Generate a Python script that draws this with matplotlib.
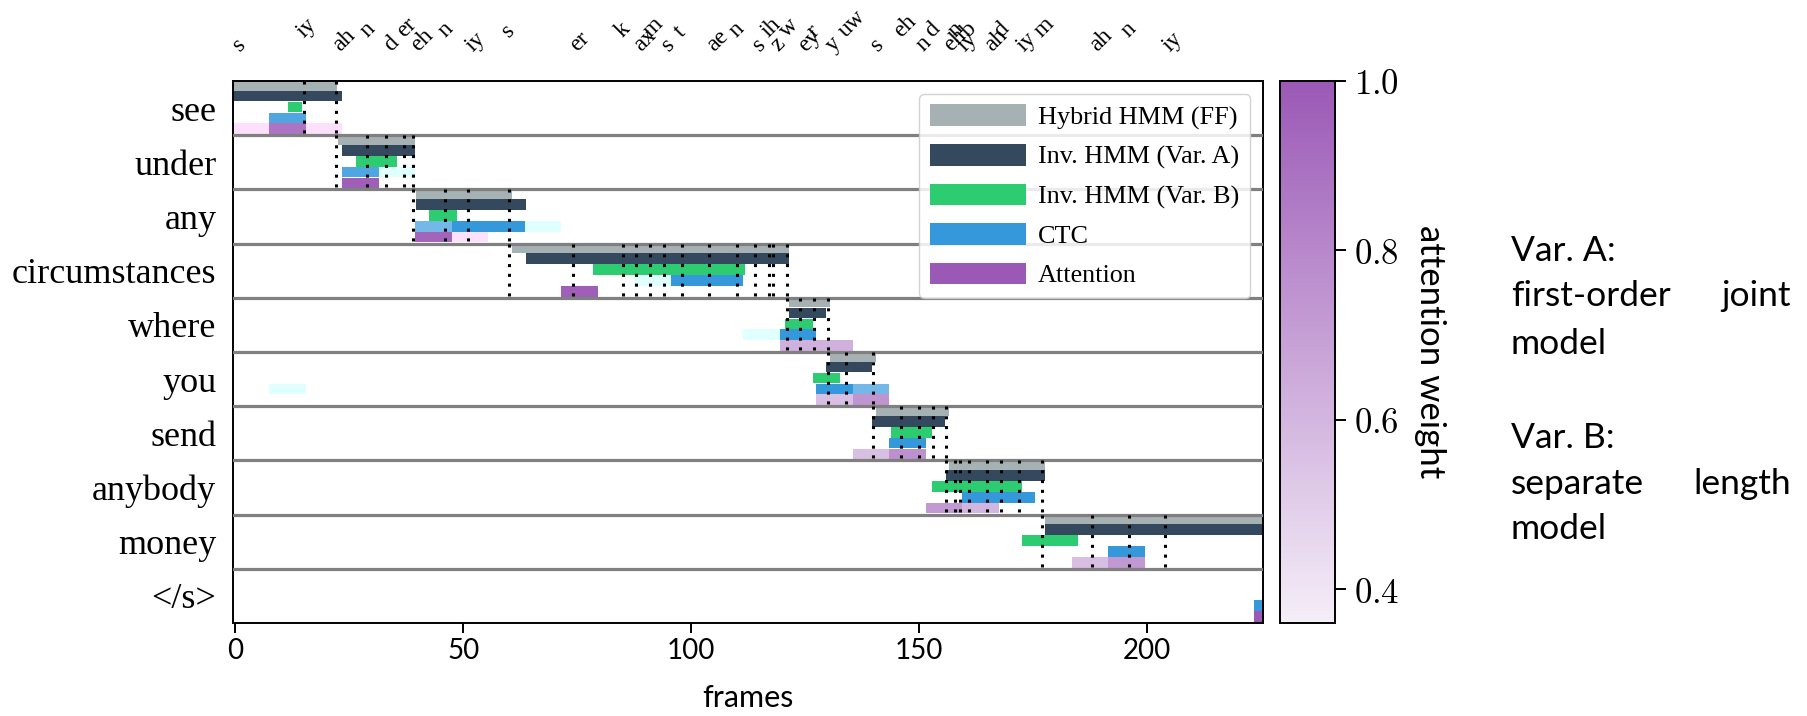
import numpy as np
import matplotlib
matplotlib.use('Agg')
import matplotlib.pyplot as plt
import matplotlib.transforms as mtransforms
from matplotlib.colors import LinearSegmentedColormap, Normalize
from matplotlib.patches import Patch
from matplotlib.cm import ScalarMappable

plt.rcParams['mathtext.fontset'] = 'cm'
SERIF = 'Liberation Serif'
SANS = 'Lato'

# ---------------- data ----------------
words = ['see', 'under', 'any', 'circumstances', 'where', 'you', 'send',
         'anybody', 'money', '</s>']
phones = [['s', 'iy'],
          ['ah', 'n', 'd', 'er'],
          ['eh', 'n', 'iy'],
          ['s', 'er', 'k', 'ax', 'm', 's', 't', 'ae', 'n', 's', 'ih', 'z'],
          ['w', 'ey', 'r'],
          ['y', 'uw'],
          ['s', 'eh', 'n', 'd'],
          ['eh', 'n', 'iy', 'b', 'ah', 'd', 'iy'],
          ['m', 'ah', 'n', 'iy'],
          []]
phone_bounds = [[0, 15, 22],
                [22, 29, 33, 37, 39],
                [39, 46, 51, 60],
                [60, 74, 85, 88, 91, 94, 98, 104, 110, 114, 117, 118, 121],
                [121, 124, 127, 130],
                [130, 134, 140],
                [140, 146, 150, 153, 156],
                [156, 158, 159, 161, 165, 168, 172, 177],
                [177, 188, 196, 204, 226],
                []]
n_frames = 226

# (word index, start frame, end frame)
hybrid_ff = [(0, -0.5, 22.3), (1, 22.5, 39.5), (2, 39.6, 60.7), (3, 60.8, 121.5),
             (4, 121.5, 130.5), (5, 130.6, 140.6), (6, 140.6, 156.7),
             (7, 156.7, 177.7), (8, 177.7, 225.5)]
var_a = [(0, -0.5, 23.4), (1, 23.4, 39.5), (2, 39.6, 63.7), (3, 63.8, 121.5),
         (4, 121.5, 129.7), (5, 129.7, 139.7), (6, 139.8, 155.8),
         (7, 156.0, 177.7), (8, 177.7, 225.5)]
var_b = [(0, 11.6, 14.6), (1, 26.5, 35.4), (2, 42.6, 48.6), (3, 78.6, 111.8),
         (4, 120.6, 126.7), (5, 126.7, 132.7), (6, 143.8, 152.8),
         (7, 152.8, 172.7), (8, 172.7, 184.8)]
# (word index, start, end, weight)
ctc = [(0, 7.5, 15.5, 0.9), (1, 23.5, 31.5, 0.9), (1, 31.5, 39.5, 0.1),
       (2, 39.5, 47.5, 0.78), (2, 47.5, 63.5, 1.0), (2, 63.5, 71.5, 0.1),
       (3, 87.5, 95.5, 0.1), (3, 95.5, 111.5, 1.0), (4, 111.5, 119.5, 0.1),
       (4, 119.5, 127.5, 1.0), (5, 7.5, 15.5, 0.1), (5, 127.5, 135.5, 1.0),
       (5, 135.5, 143.5, 0.78), (6, 143.5, 151.5, 1.0), (7, 159.5, 175.5, 1.0),
       (8, 191.5, 199.5, 1.0), (9, 223.5, 225.5, 1.0)]
attention = [(0, -0.5, 7.5, 0.1), (0, 7.5, 15.5, 0.88), (0, 15.5, 23.5, 0.1),
             (1, 23.5, 31.5, 0.97), (2, 39.5, 47.5, 0.95), (2, 47.5, 55.5, 0.1),
             (3, 71.5, 79.5, 0.97), (4, 119.5, 135.5, 0.62),
             (5, 127.5, 135.5, 0.56), (5, 135.5, 143.5, 0.74),
             (6, 135.5, 143.5, 0.56), (6, 143.5, 151.5, 0.76),
             (7, 151.5, 159.5, 0.72), (7, 159.5, 167.5, 0.6),
             (8, 183.5, 191.5, 0.57), (8, 191.5, 199.5, 0.73),
             (9, 223.5, 225.5, 1.0)]
model_names = ['Hybrid HMM (FF)', 'Inv. HMM (Var. A)', 'Inv. HMM (Var. B)',
               'CTC', 'Attention']
xticks = [0, 50, 100, 150, 200]
cbar_ticks = [0.4, 0.6, 0.8, 1.0]
w_min, w_max = 0.36, 1.0

# ---------------- style ----------------
c_ff, c_a, c_b, c_ctc, c_att = '#a5b1b2', '#34495e', '#2ecc71', '#3498db', '#9b59b6'
att_cmap = LinearSegmentedColormap.from_list('att', ['#f5eef8', c_att])
att_cmap.set_under('#fde0fb')
ctc_cmap = LinearSegmentedColormap.from_list('ctc', ['#eef6fc', c_ctc])
ctc_cmap.set_under('#e0ffff')
norm = Normalize(w_min, w_max)

fig = plt.figure(figsize=(18.08, 7.16), dpi=100)
ax = fig.add_axes([233 / 1808, 1 - 623 / 716, 1030 / 1808, 542 / 716])

bar_h = 0.195


def ypos(rows, k):
    return np.asarray(rows, dtype=float) - 0.42 + 0.2 * k


def draw_plain(segs, k, color):
    rows = [s[0] for s in segs]
    st = np.array([s[1] for s in segs])
    en = np.array([s[2] for s in segs])
    ax.barh(ypos(rows, k), en - st, left=st, height=bar_h, color=color,
            linewidth=0, zorder=2)


def draw_weighted(segs, k, cmap):
    rows = [s[0] for s in segs]
    st = np.array([s[1] for s in segs])
    en = np.array([s[2] for s in segs])
    w = np.array([s[3] for s in segs])
    ax.barh(ypos(rows, k), en - st, left=st, height=bar_h, color=cmap(norm(w)),
            linewidth=0, zorder=2)


draw_plain(hybrid_ff, 0, c_ff)
draw_plain(var_a, 1, c_a)
draw_plain(var_b, 2, c_b)
draw_weighted(ctc, 3, ctc_cmap)
draw_weighted(attention, 4, att_cmap)

# word separators
for i in range(len(words) - 1):
    ax.axhline(i + 0.5, color='#808080', lw=2.3, zorder=3)

# phoneme boundaries
for i, bnds in enumerate(phone_bounds):
    for b in bnds:
        if 0 < b < n_frames - 0.5:
            ax.vlines(b, i - 0.5, i + 0.5, colors='k', linestyles=(0, (1, 2.2)),
                      lw=2.2, zorder=4)

ax.set_xlim(-0.5, n_frames - 0.5)
ax.set_ylim(len(words) - 0.5, -0.5)
ax.set_yticks(range(len(words)))
ax.set_yticklabels(words, family=SERIF, fontsize=26)
ax.tick_params(axis='y', length=0, pad=12)
ax.set_xticks(xticks)
ax.set_xticklabels([str(t) for t in xticks], family=SANS, fontsize=20)
ax.tick_params(axis='x', length=7, width=1.4)
ax.set_xlabel('frames', family=SANS, fontsize=22, labelpad=15)
for sp in ax.spines.values():
    sp.set_linewidth(1.4)

# phoneme labels on top, rotated 45 deg, alternating heights
base = mtransforms.blended_transform_factory(ax.transData, ax.transAxes)
idx = 0
for i, ph in enumerate(phones):
    for j, p in enumerate(ph):
        if idx % 2 == 0:
            dx, dy = 5, 29
        else:
            dx, dy = 0, 43
        tr = base + mtransforms.ScaledTranslation(dx / 100, dy / 100, fig.dpi_scale_trans)
        ax.text(phone_bounds[i][j], 1.0, p, transform=tr, rotation=45,
                rotation_mode='anchor', ha='left', va='baseline',
                family=SERIF, fontsize=17, clip_on=False)
        idx += 1

# legend
handles = [Patch(facecolor=c, edgecolor='none') for c in [c_ff, c_a, c_b, c_ctc, c_att]]
leg = ax.legend(handles, model_names, loc='upper right',
                prop={'family': SERIF, 'size': 18.8}, handlelength=3.7,
                handleheight=0.9, labelspacing=0.55, handletextpad=0.45,
                borderpad=0.4, framealpha=0.85, edgecolor='#cccccc', fancybox=True)
leg.set_zorder(6)

# colorbar
cax = fig.add_axes([1280 / 1808, 1 - 623 / 716, 55 / 1808, 542 / 716])
sm = ScalarMappable(norm=norm, cmap=att_cmap)
cb = fig.colorbar(sm, cax=cax)
cb.set_ticks(cbar_ticks)
cb.set_ticklabels(['$%.1f$' % t for t in cbar_ticks])
cax.tick_params(labelsize=25, length=8, width=1.4, pad=6)
cb.outline.set_linewidth(1.4)
cb.set_label('attention weight', rotation=270, family=SANS, fontsize=25,
             labelpad=10, va='bottom')

# side note
xl, xr = 1511 / 1808, 1791 / 1808
fs = 25.5
fig.text(xl, 1 - 261 / 716, 'Var. A:', family=SANS, fontsize=fs, va='baseline')
fig.text(xl, 1 - 306.5 / 716, 'first-order', family=SANS, fontsize=fs, va='baseline')
fig.text(xr, 1 - 306.5 / 716, 'joint', family=SANS, fontsize=fs, va='baseline', ha='right')
fig.text(xl, 1 - 353.7 / 716, 'model', family=SANS, fontsize=fs, va='baseline')
fig.text(xl, 1 - 448 / 716, 'Var. B:', family=SANS, fontsize=fs, va='baseline')
fig.text(xl, 1 - 493.6 / 716, 'separate', family=SANS, fontsize=fs, va='baseline')
fig.text(xr, 1 - 493.6 / 716, 'length', family=SANS, fontsize=fs, va='baseline', ha='right')
fig.text(xl, 1 - 539 / 716, 'model', family=SANS, fontsize=fs, va='baseline')

fig.savefig('out.png', dpi=100)
